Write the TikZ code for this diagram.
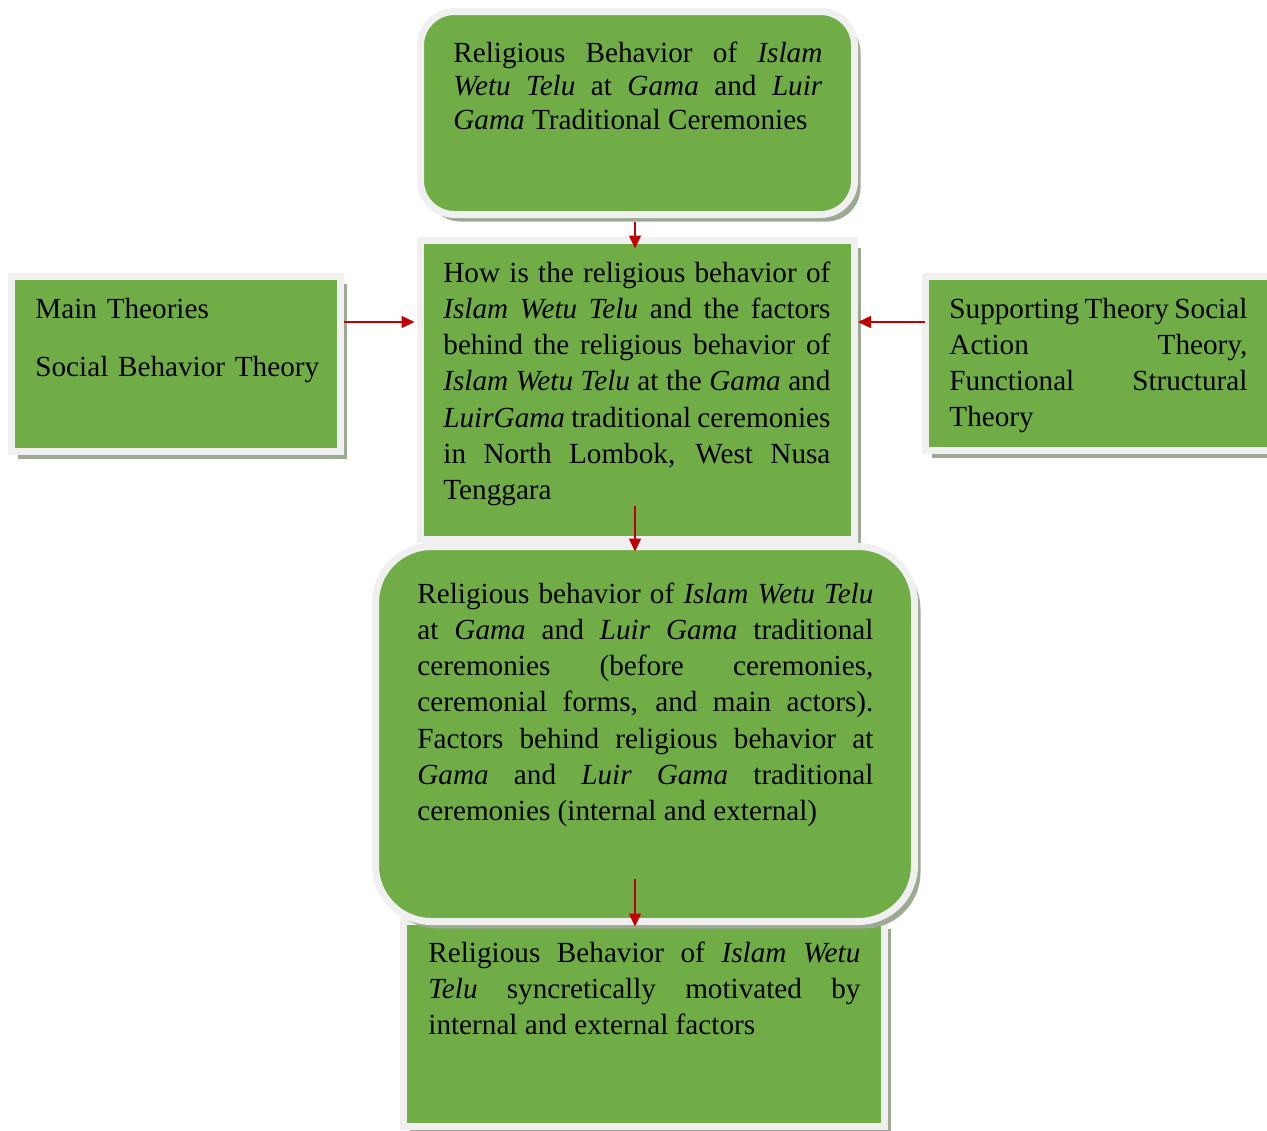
\documentclass[tikz,border=0pt]{standalone}
\usepackage{fontspec}
\setmainfont{Liberation Serif}
\usepackage{tikz}
\usetikzlibrary{arrows.meta,shadows}

\definecolor{leafgreen}{HTML}{70AD47}
\definecolor{rimgray}{HTML}{F0F0F0}
\definecolor{rimshade}{HTML}{9DAA93}
\definecolor{linkred}{HTML}{C00000}
\newcommand{\boxfont}{\fontsize{14.6}{18.15}\selectfont}

\begin{document}
\begin{tikzpicture}[x=0.5pt,y=-0.5pt,
  stage/.style={fill=leafgreen,draw=rimgray,line width=3.5pt,inner sep=0pt,
    drop shadow={shadow xshift=3pt,shadow yshift=-3.5pt,fill=rimshade,opacity=1}},
  words/.style={inner sep=0pt,anchor=base west,align=justify,font=\boxfont},
  link/.style={draw=linkred,line width=0.75pt,-{Triangle[length=6.5pt,width=6pt]}}]
\useasboundingbox (0,0) rectangle (1267,1130);
% boxes
\node[stage,minimum width=217pt,minimum height=149.5pt] (q) at (637.5,390) {};
\node[stage,rounded corners=17pt,minimum width=217pt,minimum height=101.5pt] (t) at (637.5,113) {};
\node[stage,minimum width=164.5pt,minimum height=87.5pt] (l) at (176,364) {};
\node[stage,minimum width=173.25pt,minimum height=87pt] (r) at (1098.75,363.5) {};
\node[stage,minimum width=240.5pt,minimum height=102.5pt] (b) at (644,1024) {};
\node[stage,rounded corners=28pt,minimum width=269.5pt,minimum height=187.5pt] (m) at (645,734) {};
% texts
\node[words,text width=184.5pt,font=\fontsize{14.6}{16.75}\selectfont] (t-text) at (453,62) {Religious Behavior of \textit{Islam}\linebreak \textit{Wetu Telu} at \textit{Gama} and \textit{Luir}\linebreak \textit{Gama} Traditional Ceremonies};
\node[words,text width=193.5pt] (q-text) at (443,282) {How is the religious behavior of\linebreak \textit{Islam Wetu Telu} and the factors\linebreak behind the religious behavior of\linebreak \textit{Islam Wetu Telu} at the \textit{Gama} and\linebreak \textit{LuirGama} traditional ceremonies\linebreak in North Lombok, West Nusa\linebreak Tenggara};
\node[words,text width=150pt,align=left] (l-text) at (35,318) {Main Theories\\[10.85pt]Social Behavior Theory};
\node[words,text width=149pt] (r-text) at (949,318) {Supporting Theory Social\linebreak Action Theory,\linebreak Functional Structural\linebreak Theory};
\node[words,text width=228pt] (m-text) at (417,603) {Religious behavior of \textit{Islam Wetu Telu}\linebreak at \textit{Gama} and \textit{Luir Gama} traditional\linebreak ceremonies (before ceremonies,\linebreak ceremonial forms, and main actors).\linebreak Factors behind religious behavior at\linebreak \textit{Gama} and \textit{Luir Gama} traditional\linebreak ceremonies (internal and external)};
\node[words,text width=216pt] (b-text) at (428,962) {Religious Behavior of \textit{Islam Wetu}\linebreak \textit{Telu} syncretically motivated by\linebreak internal and external factors};
% arrows
\draw[link] ([xshift=-1.25pt,yshift=-2pt]t.south) -- ([xshift=-1.25pt,yshift=-5.75pt]q.north);
\draw[link] ([yshift=21pt]l.east) -- ([xshift=-1.25pt,yshift=34pt]q.west);
\draw[link] ([xshift=1.25pt,yshift=20.75pt]r.west) -- ([yshift=34pt]q.east);
\draw[link] ([xshift=-1.25pt,yshift=18.75pt]q.south) -- ([xshift=-5pt,yshift=-4.25pt]m.north);
\draw[link] ([xshift=-5pt,yshift=23.25pt]m.south) -- ([xshift=-4.5pt,yshift=-4.25pt]b.north);
\end{tikzpicture}
\end{document}
